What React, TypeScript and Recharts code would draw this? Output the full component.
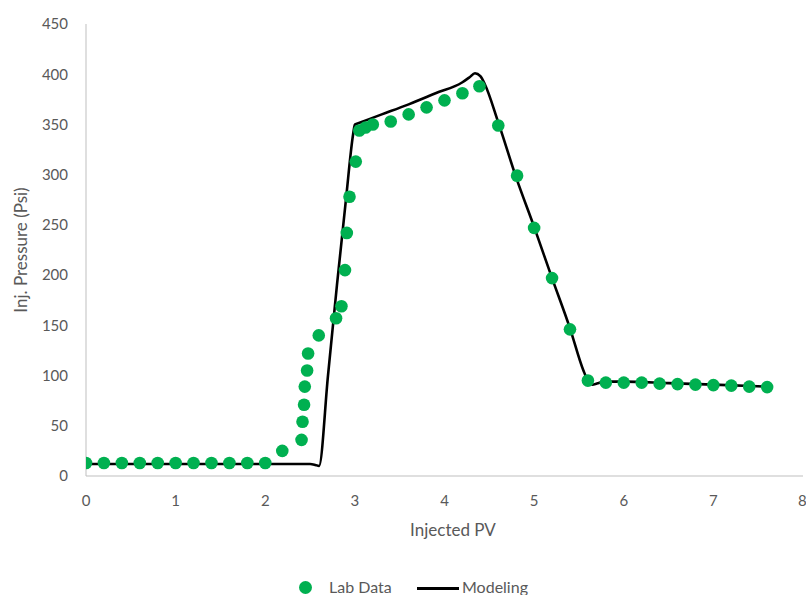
import React from "react";
import {
    ComposedChart,
    Line,
    Scatter,
    XAxis,
    YAxis,
} from "recharts";

// Lab measurements (Injected PV vs injection pressure)
const labPV = [
    0, 0.2, 0.4, 0.6, 0.8, 1, 1.2, 1.4, 1.6, 1.8, 2, 2.19, 2.405, 2.416, 2.433,
    2.441, 2.467, 2.478, 2.597, 2.79, 2.85, 2.89, 2.91, 2.94, 3.01, 3.05, 3.12,
    3.2, 3.4, 3.6, 3.8, 4, 4.2, 4.39, 4.6, 4.81, 5, 5.2, 5.4, 5.6, 5.8, 6, 6.2,
    6.4, 6.6, 6.8, 7, 7.2, 7.4, 7.6,
];
const labPressure = [
    13, 13, 13, 13, 13, 13, 13, 13, 13, 13, 13, 25, 36, 54, 71, 89, 105, 122,
    140, 157, 169, 205, 242, 278, 313, 344, 347, 350, 353, 360, 367, 374, 381,
    388, 349, 299, 247, 197, 146, 95, 93, 93, 93, 92, 91.5, 91, 90.5, 90, 89,
    88.5,
];

// Simulation curve
const modelPV = [
    0, 0.5, 1, 1.5, 2, 2.5, 2.56, 2.6, 2.7, 2.8, 2.9, 2.98, 3, 3.03, 3.3, 3.6,
    3.9, 4.2, 4.28, 4.34, 4.4, 4.45, 4.6, 4.8, 5, 5.2, 5.4, 5.55, 5.6, 5.65,
    5.7, 5.78, 6, 6.5, 7, 7.6,
];
const modelPressure = [
    12, 12, 12, 12, 12, 12, 11, 10, 100, 190, 275, 340, 350, 351, 360, 370,
    381, 392, 397, 401, 398, 390, 352, 297, 248, 197, 147, 105, 95, 91, 92, 94,
    94, 92.5, 91, 89,
];

const xTicks = [0, 1, 2, 3, 4, 5, 6, 7, 8];
const yTicks = [0, 50, 100, 150, 200, 250, 300, 350, 400, 450];

const labData = labPV.map((x, i) => ({ x, y: labPressure[i] }));
const modelData = modelPV.map((x, i) => ({ x, y: modelPressure[i] }));

const FONT = "Lato, 'Open Sans', sans-serif";
const GREEN = "#00b050";

export default function App() {
    return (
        <div style={{ position: "absolute", left: 0, top: 0, width: 806, height: 595, background: "#fff", fontFamily: FONT, overflow: "hidden" }}>
            <ComposedChart
                width={806}
                height={595}
                margin={{ top: 24, right: 3, bottom: 0, left: 0 }}
            >
                <XAxis
                    type="number"
                    dataKey="x"
                    domain={[0, 8]}
                    ticks={xTicks}
                    height={119}
                    stroke="#bfbfbf"
                    tickLine={false}
                    tickSize={6}
                    tickMargin={13}
                    tick={{ fill: "#595959", fontSize: 15, fontFamily: FONT }}
                    allowDataOverflow
                    label={{
                        content: () => (
                            <text x={453} y={536} textAnchor="middle" fill="#595959" fontSize={17} fontFamily={FONT}>
                                Injected PV
                            </text>
                        ),
                    }}
                />
                <YAxis
                    type="number"
                    domain={[0, 450]}
                    ticks={yTicks}
                    width={86}
                    stroke="#bfbfbf"
                    tickLine={false}
                    tickSize={10}
                    tickMargin={8}
                    tick={{ fill: "#595959", fontSize: 15, fontFamily: FONT }}
                    label={{
                        content: () => (
                            <text
                                x={20}
                                y={250}
                                transform="rotate(-90 20 250)"
                                textAnchor="middle"
                                dominantBaseline="central"
                                fill="#595959"
                                fontSize={17}
                                fontFamily={FONT}
                            >
                                Inj. Pressure (Psi)
                            </text>
                        ),
                    }}
                />
                <Scatter
                    name="Lab Data"
                    data={labData}
                    dataKey="y"
                    fill={GREEN}
                    isAnimationActive={false}
                    shape={(p: any) => <circle cx={p.cx} cy={p.cy} r={6.3} fill={GREEN} />}
                />
                <Line
                    name="Modeling"
                    data={modelData}
                    dataKey="y"
                    type="monotone"
                    stroke="#000"
                    strokeWidth={2.6}
                    dot={false}
                    activeDot={false}
                    isAnimationActive={false}
                />
            </ComposedChart>
            <div style={{ position: "absolute", top: 577, left: 0, width: 806, height: 24, color: "#595959", fontSize: 16 }}>
                <span style={{ position: "absolute", left: 299, top: 4, width: 13, height: 13, borderRadius: "50%", background: GREEN }} />
                <span style={{ position: "absolute", left: 329, top: 0 }}>Lab Data</span>
                <span style={{ position: "absolute", left: 417, top: 10, width: 42, height: 3, background: "#000" }} />
                <span style={{ position: "absolute", left: 462, top: 0 }}>Modeling</span>
            </div>
        </div>
    );
}
